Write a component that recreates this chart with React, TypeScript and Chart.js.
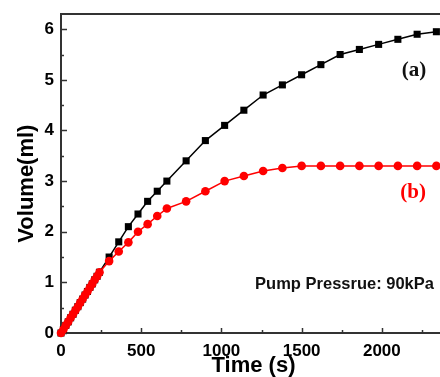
import React, { useEffect, useRef } from 'react';
import { Chart, registerables } from 'chart.js';

Chart.register(...registerables);

// Series (a): black squares
const timeA = [0, 15, 30, 45, 60, 75, 90, 105, 120, 135, 150, 165, 180, 195, 210, 225, 240, 300, 360, 420, 480, 540, 600, 660, 780, 900, 1020, 1140, 1260, 1380, 1500, 1620, 1740, 1860, 1980, 2100, 2220, 2340];
const volA = [0, 0.07, 0.15, 0.22, 0.3, 0.37, 0.45, 0.52, 0.6, 0.67, 0.75, 0.82, 0.9, 0.97, 1.05, 1.12, 1.2, 1.5, 1.8, 2.1, 2.35, 2.6, 2.8, 3.0, 3.4, 3.8, 4.1, 4.4, 4.7, 4.9, 5.1, 5.3, 5.5, 5.6, 5.7, 5.8, 5.9, 5.95];

// Series (b): red circles
const timeB = [0, 15, 30, 45, 60, 75, 90, 105, 120, 135, 150, 165, 180, 195, 210, 225, 240, 300, 360, 420, 480, 540, 600, 660, 780, 900, 1020, 1140, 1260, 1380, 1500, 1620, 1740, 1860, 1980, 2100, 2220, 2340];
const volB = [0, 0.07, 0.15, 0.22, 0.3, 0.37, 0.45, 0.52, 0.6, 0.67, 0.75, 0.82, 0.9, 0.97, 1.05, 1.12, 1.2, 1.42, 1.61, 1.79, 2.0, 2.15, 2.31, 2.46, 2.6, 2.8, 3.0, 3.1, 3.2, 3.26, 3.3, 3.3, 3.3, 3.3, 3.3, 3.3, 3.3, 3.3];

// Axes
const xMin = 0;
const xMax = 2400;
const xTickValues = [0, 500, 1000, 1500, 2000];
const yMin = 0;
const yMax = 6.3;
const yTickValues = [0, 1, 2, 3, 4, 5, 6];

// Texts
const xTitle = 'Time (s)';
const yTitle = 'Volume(ml)';
const labelA = '(a)';
const labelB = '(b)';
const noteText = 'Pump Pressrue: 90kPa';
// annotation anchors in data units
const labelAPos = { x: 2200, y: 5.18 };
const labelBPos = { x: 2195, y: 2.77 };
const notePos = { x: 1210, y: 0.95 };
const yTitleCenter = 2.95;

const SANS = 'Arial, "Liberation Sans", sans-serif';
const SERIF = '"Times New Roman", "Liberation Serif", serif';
const AXIS = '#333333';

const decor = {
  id: 'decor',
  beforeDatasetsDraw(chart: any) {
    const { ctx, chartArea: a, scales } = chart;
    const x = scales.x;
    const y = scales.y;
    ctx.save();
    ctx.strokeStyle = AXIS;
    ctx.lineWidth = 1.5;
    const xt = x.ticks.map((t: any) => t.value);
    const xs = xt.length > 1 ? xt[1] - xt[0] : 500;
    for (const v of xt) {
      for (const [val, len] of [[v, 5], [v + xs / 2, 3]] as [number, number][]) {
        if (val < x.min || val > x.max) continue;
        const px = Math.round(x.getPixelForValue(val)) + 0.5;
        ctx.beginPath();
        ctx.moveTo(px, a.bottom);
        ctx.lineTo(px, a.bottom - len);
        ctx.stroke();
      }
    }
    const yt = y.ticks.map((t: any) => t.value);
    const ys = yt.length > 1 ? yt[1] - yt[0] : 1;
    for (const v of yt) {
      for (const [val, len] of [[v, 6], [v + ys / 2, 3]] as [number, number][]) {
        if (val < y.min || val > y.max) continue;
        const py = Math.round(y.getPixelForValue(val)) + 0.5;
        ctx.beginPath();
        ctx.moveTo(a.left, py);
        ctx.lineTo(a.left + len, py);
        ctx.stroke();
      }
    }
    ctx.lineWidth = 2;
    ctx.strokeRect(a.left, a.top, a.right - a.left, a.bottom - a.top);
    ctx.restore();
  },
  afterDraw(chart: any) {
    const { ctx, scales } = chart;
    const x = scales.x;
    const y = scales.y;
    ctx.save();
    ctx.save();
    ctx.translate(33, y.getPixelForValue(yTitleCenter));
    ctx.rotate(-Math.PI / 2);
    ctx.font = `bold 22px ${SANS}`;
    ctx.fillStyle = '#000';
    ctx.textAlign = 'center';
    ctx.textBaseline = 'alphabetic';
    ctx.fillText(yTitle, 0, 0);
    ctx.restore();
    ctx.font = `bold 21px ${SERIF}`;
    ctx.textAlign = 'center';
    ctx.textBaseline = 'middle';
    ctx.fillStyle = '#111';
    ctx.fillText(labelA, x.getPixelForValue(labelAPos.x), y.getPixelForValue(labelAPos.y));
    ctx.fillStyle = '#ff0000';
    ctx.fillText(labelB, x.getPixelForValue(labelBPos.x), y.getPixelForValue(labelBPos.y));
    ctx.font = `bold 16.5px ${SANS}`;
    ctx.fillStyle = '#111';
    ctx.textAlign = 'left';
    ctx.fillText(noteText, x.getPixelForValue(notePos.x), y.getPixelForValue(notePos.y));
    ctx.restore();
  },
};

export default function App() {
  const ref = useRef<HTMLCanvasElement>(null);
  useEffect(() => {
    if (!ref.current) return;
    const chart = new Chart(ref.current, {
      type: 'line',
      data: {
        datasets: [
          {
            label: 'b',
            data: timeB.map((t, i) => ({ x: t, y: volB[i] })),
            borderColor: '#ff0000',
            backgroundColor: '#ff0000',
            borderWidth: 1.5,
            pointStyle: 'circle',
            pointRadius: 4.3,
            pointBorderWidth: 0,
            clip: false as any,
            order: 0,
          },
          {
            label: 'a',
            data: timeA.map((t, i) => ({ x: t, y: volA[i] })),
            borderColor: '#000000',
            backgroundColor: '#000000',
            borderWidth: 1.5,
            pointStyle: 'rect',
            pointRadius: 5,
            pointBorderWidth: 0,
            clip: false as any,
            order: 1,
          },
        ],
      },
      options: {
        animation: false,
        responsive: false,
        maintainAspectRatio: false,
        layout: { padding: { left: 0, top: 14, right: 0, bottom: 0 } },
        plugins: { legend: { display: false }, tooltip: { enabled: false } },
        scales: {
          x: {
            type: 'linear',
            min: xMin,
            max: xMax,
            grid: { display: false, drawTicks: false },
            border: { display: false },
            afterBuildTicks: (s: any) => { s.ticks = xTickValues.map((v) => ({ value: v })); },
            ticks: {
              autoSkip: false,
              maxRotation: 0,
              padding: 8,
              color: '#000',
              font: { family: SANS, size: 17, weight: 'bold' },
              callback: (v: any) => String(v),
            },
            title: {
              display: true,
              text: xTitle,
              color: '#000',
              font: { family: SANS, size: 22, weight: 'bold' },
              padding: { top: 0, bottom: -2 },
            },
            afterFit: (s: any) => { s.height = 44; s.paddingLeft = 0; s.paddingRight = 0; },
          },
          y: {
            type: 'linear',
            min: yMin,
            max: yMax,
            grid: { display: false, drawTicks: false },
            border: { display: false },
            afterBuildTicks: (s: any) => { s.ticks = yTickValues.map((v) => ({ value: v })); },
            ticks: {
              autoSkip: false,
              padding: 7,
              color: '#000',
              font: { family: SANS, size: 17, weight: 'bold' },
              callback: (v: any) => String(v),
            },
            afterFit: (s: any) => { s.width = 61; s.paddingTop = 0; s.paddingBottom = 0; },
          },
        },
      } as any,
      plugins: [decor],
    });
    return () => chart.destroy();
  }, []);
  return (
    <div style={{ position: 'absolute', left: 0, top: 0, width: 440, height: 377, overflow: 'hidden', background: '#fff' }}>
      <canvas ref={ref} width={451} height={377} style={{ width: 451, height: 377, display: 'block' }} />
    </div>
  );
}
